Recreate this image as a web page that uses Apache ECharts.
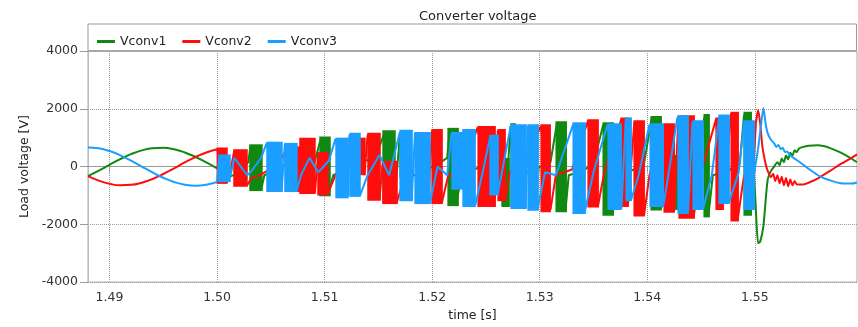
<!DOCTYPE html>
<html>
<head>
<meta charset="utf-8">
<script src="https://cdn.jsdelivr.net/npm/echarts@6/dist/echarts.min.js"></script>
<style>
html, body { margin: 0; padding: 0; background: #fff; }
#main { width: 858px; height: 327px; }
</style>
</head>
<body>
<div id="main"></div>
<script>
// axes
var xMin = 1.488, xMax = 1.5595;
var xTicks = [1.49, 1.50, 1.51, 1.52, 1.53, 1.54, 1.55];
var yTicks = [-4000, -2000, 0, 2000, 4000];
var names = ['Vconv1', 'Vconv2', 'Vconv3'];
var colors = ['#118811', '#ff0d0d', '#1a9eff'];

// before switching starts [time, V]
var v1Pre = [[1.488,-331],[1.489,-142],[1.490,61],[1.491,258],[1.492,430],[1.493,559],[1.494,634],
  [1.495,647],[1.496,597],[1.497,488],[1.498,331],[1.499,142],[1.5000,-61]];
var v2Pre = [[1.488,-331],[1.489,-488],[1.490,-597],[1.491,-647],[1.492,-634],[1.493,-559],[1.494,-430],
  [1.495,-258],[1.496,-61],[1.497,142],[1.498,331],[1.499,488],[1.5000,597]];
var v3Pre = [[1.488,662],[1.489,630],[1.490,536],[1.491,389],[1.492,204],[1.493,0],[1.494,-204],
  [1.495,-389],[1.496,-536],[1.497,-630],[1.498,-662],[1.499,-630],[1.5000,-536]];

// during switching [time, V]
var v1Sw = [
  [1.5000,-61],[1.5004,-250],[1.5012,-350],[1.5021,-200],[1.5029,150],[1.5031,700],[1.5041,-800],[1.5044,-300],
  [1.5054,-150],[1.5063,50],[1.5072,250],[1.5081,350],[1.5091,200],[1.5096,900],[1.5104,-900],
  [1.5108,-300],[1.5119,-100],[1.5133,150],[1.5147,300],[1.5155,1100],[1.5165,-1100],[1.5167,-300],
  [1.5170,1100],[1.5176,-400],[1.5190,-200],[1.5206,100],[1.5214,300],[1.5216,1200],[1.5223,-1200],
  [1.5227,-300],[1.5240,-100],[1.5253,200],[1.5258,-800],[1.5261,200],[1.5268,-1300],[1.5273,1400],
  [1.5277,-1300],[1.5280,-300],[1.5295,-100],[1.5310,150],[1.5316,1500],[1.5324,-1500],[1.5327,-300],
  [1.5340,-150],[1.5350,100],[1.5359,1450],[1.5368,-1600],[1.5372,-300],[1.5385,-150],[1.5397,100],
  [1.5404,1650],[1.5413,-1450],[1.5418,400],[1.5428,-1400],[1.5431,-300],[1.5445,-100],[1.5453,1700],
  [1.5457,-1650],[1.5461,-300],[1.5475,-150],[1.5486,100],[1.5490,1800],[1.5496,-1600],[1.5498,600],
  [1.5501,-1500]
];
var v2Sw = [
  [1.5000,597],[1.5009,-550],[1.5012,-200],[1.5016,550],[1.5028,-650],[1.5032,-400],[1.5040,-300],[1.5049,-100],
  [1.5058,150],[1.5065,650],[1.5077,-850],[1.5078,950],[1.5091,-900],[1.5094,450],[1.5103,-950],
  [1.5110,-300],[1.5120,-100],[1.5133,900],[1.5137,-300],[1.5140,1100],[1.5151,-1150],[1.5154,150],
  [1.5167,-1250],[1.5175,-300],[1.5186,-300],[1.5196,-1250],[1.5200,1250],[1.5209,-1250],[1.5215,-300],
  [1.5230,-100],[1.5242,1350],[1.5258,-1350],[1.5261,1250],[1.5268,-1150],[1.5272,-200],[1.5285,100],
  [1.5301,1400],[1.5310,-1500],[1.5315,-300],[1.5330,-100],[1.5345,1600],[1.5354,-1400],[1.5360,-200],
  [1.5376,1650],[1.5382,-1350],[1.5388,1550],[1.5397,-1700],[1.5402,-300],[1.5416,1450],[1.5425,-1550],
  [1.5429,1750],[1.5443,-1750],[1.5450,-200],[1.5464,1650],[1.5470,-1450],[1.5478,1850],[1.5484,-1850],
  [1.5490,-300],[1.5498,-500],[1.5501,1500]
];
var v3Sw = [
  [1.5000,-536],[1.5002,350],[1.5012,-400],[1.5016,300],[1.5028,-300],[1.5031,-200],[1.5041,300],[1.5046,800],
  [1.5060,-850],[1.5063,780],[1.5074,-850],[1.5078,-300],[1.5086,300],[1.5094,-200],[1.5104,200],
  [1.5110,950],[1.5122,-1000],[1.5123,1100],[1.5133,-1000],[1.5140,-300],[1.5151,400],[1.5160,-300],
  [1.5170,1200],[1.5181,-1150],[1.5184,1150],[1.5198,-1250],[1.5205,0],[1.5214,-300],[1.5218,1150],
  [1.5228,-750],[1.5229,1250],[1.5240,-1350],[1.5247,-200],[1.5254,1050],[1.5261,-950],[1.5273,1400],
  [1.5287,-1400],[1.5289,1400],[1.5298,-1450],[1.5305,-200],[1.5315,-300],[1.5331,1450],[1.5342,-1550],
  [1.5350,-200],[1.5363,1450],[1.5376,-1450],[1.5380,1650],[1.5385,-1150],[1.5392,-300],[1.5402,1450],
  [1.5415,-1350],[1.5420,-200],[1.5428,1700],[1.5438,-1550],[1.5442,1550],[1.5452,-1450],[1.5460,-300],
  [1.5467,1750],[1.5476,-1250],[1.5485,-200],[1.5490,1550],[1.5499,-300],[1.5503,600]
];

// after switching stops [time, V]
var v1Post = [[1.5501,-1500],[1.5503,-2650],[1.5505,-2600],[1.5508,-2050],[1.5510,-1200],[1.5512,-450],
  [1.5515,-150],[1.5518,0],[1.5521,150],[1.5523,50],[1.5525,280],[1.5527,150],[1.5529,380],
  [1.5531,250],[1.5533,480],[1.5535,380],[1.5537,560],[1.5539,500],[1.5541,620],
  [1.5545,680],[1.5550,720],[1.5558,740],[1.5565,700],[1.5570,640],[1.5580,480],[1.5590,270],[1.5595,150]];
var v2Post = [[1.5501,1500],[1.5503,1960],[1.5505,1500],[1.5507,700],[1.5510,100],
  [1.5512,-150],[1.5515,-370],[1.5517,-250],[1.5519,-500],[1.5521,-300],[1.5523,-580],[1.5525,-350],
  [1.5527,-650],[1.5529,-400],[1.5531,-680],[1.5533,-450],[1.5535,-650],[1.5537,-500],[1.5539,-620],
  [1.5545,-620],[1.5550,-560],[1.5560,-380],[1.5570,-150],[1.5580,90],[1.5590,300],[1.5595,420]];
var v3Post = [[1.5503,600],[1.5506,1500],[1.5508,2030],[1.5510,1500],[1.5512,1150],[1.5515,930],[1.5518,800],
  [1.5520,680],[1.5522,750],[1.5524,600],[1.5526,650],[1.5528,500],[1.5530,520],[1.5533,380],
  [1.5536,300],[1.5540,200],[1.5545,60],[1.5550,-80],[1.5560,-330],[1.5570,-480],[1.5580,-580],
  [1.5590,-590],[1.5595,-550]];

// switching bursts [tStart, tEnd, high V, low V]
var v1Bursts = [
  [1.50304,1.50415,770,-850],[1.50955,1.51048,1040,-1030],[1.51541,1.51652,1260,-1260],
  [1.51700,1.51765,1200,-400],[1.52146,1.52239,1340,-1370],[1.52536,1.52583,200,-850],
  [1.52648,1.52713,300,-1400],[1.52732,1.52769,1500,-1400],[1.53151,1.53244,1570,-1580],
  [1.53588,1.53681,1530,-1700],[1.54034,1.54127,1750,-1520],[1.54183,1.54276,400,-1500],
  [1.54527,1.54573,1820,-1760],[1.54899,1.54964,1900,-1700]
];
var v2Bursts = [
  [1.50000,1.50090,660,-600],[1.50155,1.50276,600,-700],[1.50647,1.50769,700,-880],
  [1.50769,1.50908,1000,-950],[1.50936,1.51029,500,-1000],[1.51327,1.51373,1000,-300],
  [1.51401,1.51513,1170,-1180],[1.51541,1.51671,200,-1300],[1.51857,1.51960,-300,-1300],
  [1.51997,1.52090,1300,-1300],[1.52425,1.52583,1400,-1400],[1.52611,1.52676,1300,-1200],
  [1.53011,1.53095,1460,-1580],[1.53448,1.53541,1640,-1420],[1.53755,1.53820,1700,-1400],
  [1.53876,1.53969,1600,-1730],[1.54155,1.54248,1500,-1600],[1.54294,1.54434,1780,-1810],
  [1.54638,1.54703,1700,-1500],[1.54778,1.54843,1900,-1900]
];
var v3Bursts = [
  [1.50016,1.50118,420,-540],[1.50462,1.50601,860,-880],[1.50629,1.50740,820,-880],
  [1.51104,1.51215,1000,-1100],[1.51234,1.51327,1170,-1050],[1.51700,1.51811,1270,-1200],
  [1.51839,1.51978,1200,-1300],[1.52183,1.52276,1200,-800],[1.52285,1.52397,1300,-1400],
  [1.52536,1.52611,1100,-1000],[1.52732,1.52871,1460,-1470],[1.52890,1.52983,1460,-1530],
  [1.53309,1.53420,1530,-1640],[1.53634,1.53755,1500,-1500],[1.53801,1.53848,1700,-1200],
  [1.54025,1.54146,1500,-1400],[1.54285,1.54378,1780,-1640],[1.54424,1.54517,1600,-1500],
  [1.54666,1.54759,1800,-1300],[1.54899,1.54992,1600,-1500]
];

var pre = [v1Pre, v2Pre, v3Pre];
var sw = [v1Sw, v2Sw, v3Sw];
var post = [v1Post, v2Post, v3Post];
var bursts = [v1Bursts, v2Bursts, v3Bursts];
var font = 'DejaVu Sans';

function burstRender(color) {
  return function (params, api) {
    var a = api.coord([api.value(0), api.value(2)]);
    var b = api.coord([api.value(1), api.value(3)]);
    return {
      type: 'rect',
      shape: { x: a[0] - 0.5, y: a[1], width: b[0] - a[0] + 1.5, height: b[1] - a[1] },
      style: { fill: color }
    };
  };
}

function lineSeries(i, data, smooth, z) {
  return {
    name: names[i],
    type: 'line',
    data: data,
    symbol: 'none',
    smooth: smooth,
    color: colors[i],
    lineStyle: { width: 2, color: colors[i] },
    z: z
  };
}

var series = [];
for (var i = 0; i < 3; i++) {
  series.push(lineSeries(i, pre[i], 0.5, 2 + i * 2));
  series.push(lineSeries(i, sw[i], false, 2 + i * 2));
  series.push({
    name: names[i],
    type: 'custom',
    data: bursts[i],
    encode: { x: [0, 1], y: [2, 3] },
    renderItem: burstRender(colors[i]),
    color: colors[i],
    clip: true,
    z: 3 + i * 2
  });
}
for (var k = 0; k < 3; k++) {
  series.push(lineSeries(k, post[k], 0.2, 10 + k));
}

var chart = echarts.init(document.getElementById('main'));
var option = {
  animation: false,
  backgroundColor: '#fff',
  textStyle: { fontFamily: font },
  title: {
    text: 'Converter voltage',
    left: 414,
    top: 5,
    textStyle: { fontFamily: font, fontSize: 13, fontWeight: 'normal', color: '#222' }
  },
  graphic: [
    { type: 'rect', shape: { x: 88, y: 24, width: 768.5, height: 27 },
      style: { fill: 'none', stroke: '#999', lineWidth: 1 }, z: 100 },
    { type: 'line', shape: { x1: 88, y1: 51, x2: 857, y2: 51 },
      style: { stroke: '#a8a8a8', lineWidth: 2 }, z: 100 }
  ],
  legend: {
    data: names.map(function (n, j) { return { name: n, itemStyle: { color: colors[j] } }; }),
    icon: 'rect',
    left: 92,
    top: 30,
    itemWidth: 18,
    itemHeight: 3,
    itemGap: 16,
    textStyle: { fontFamily: font, fontSize: 12.5, color: '#222', padding: [2, 0, 0, 0] }
  },
  grid: { left: 88, right: 1, top: 51, bottom: 43, show: true, borderColor: '#aaa', borderWidth: 1 },
  xAxis: {
    type: 'value',
    min: xMin,
    max: xMax,
    name: 'time [s]',
    nameLocation: 'middle',
    nameGap: 26,
    nameTextStyle: { fontFamily: font, fontSize: 12.5, color: '#222' },
    axisLine: { lineStyle: { color: '#999' } },
    axisTick: { customValues: xTicks, length: 6, lineStyle: { color: '#999' } },
    axisLabel: { customValues: xTicks, margin: 9, fontFamily: font, fontSize: 12.5, color: '#333',
      formatter: function (v) { return v.toFixed(2); } },
    splitLine: { show: true, lineStyle: { type: 'dotted', color: '#999' } }
  },
  yAxis: {
    type: 'value',
    min: yTicks[0],
    max: yTicks[yTicks.length - 1],
    interval: 2000,
    name: 'Load voltage [V]',
    nameLocation: 'middle',
    nameGap: 46,
    nameTextStyle: { fontFamily: font, fontSize: 12.5, color: '#222' },
    axisLine: { show: true, lineStyle: { color: '#bbb' } },
    axisTick: { show: true, length: 8, lineStyle: { color: '#999' } },
    axisLabel: { margin: 10, fontFamily: font, fontSize: 12.5, color: '#333',
      formatter: function (v) { return String(v); } },
    splitLine: { show: true, lineStyle: { type: 'dotted', color: '#999' } }
  },
  series: series
};
chart.setOption(option);
</script>
</body>
</html>
